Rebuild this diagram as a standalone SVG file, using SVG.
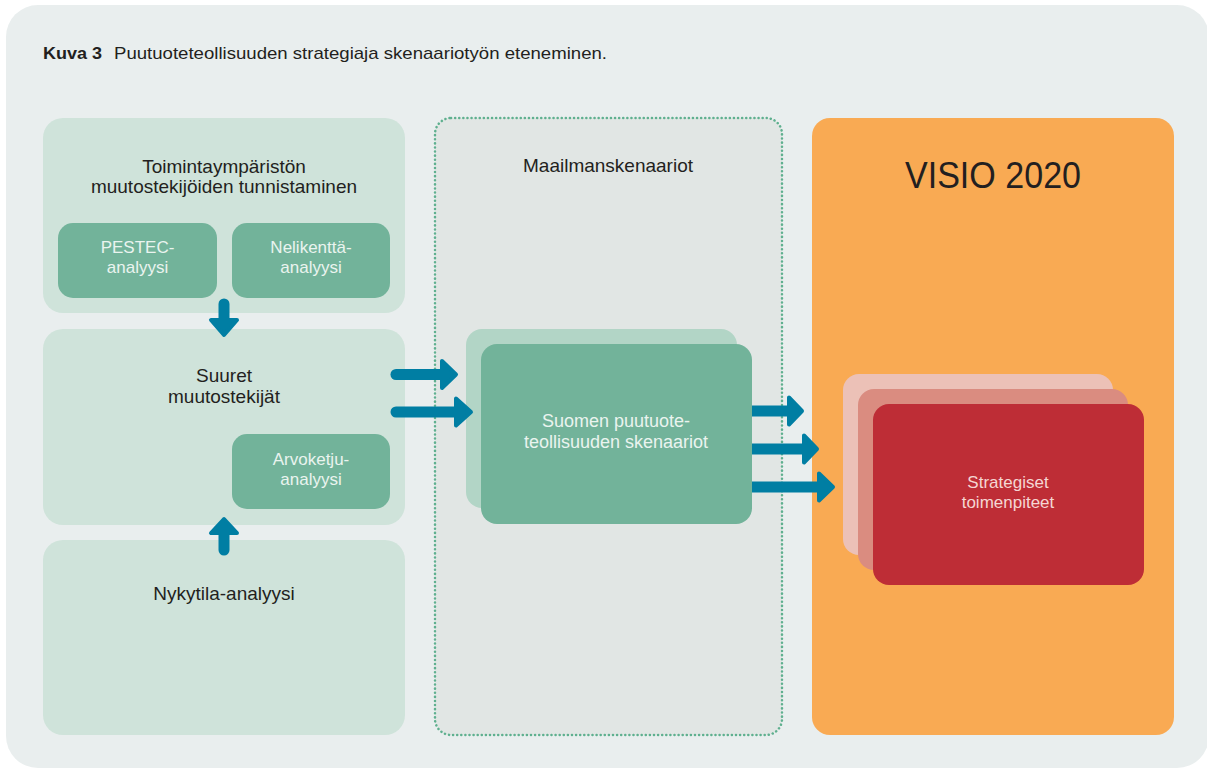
<svg xmlns="http://www.w3.org/2000/svg" width="1207" height="769" viewBox="0 0 1207 769">
<style>
.t{font-family:"Liberation Sans","DejaVu Sans",sans-serif;fill:#231f20;text-anchor:middle;font-size:19px}
.w{font-family:"Liberation Sans","DejaVu Sans",sans-serif;fill:#eaf4ef;text-anchor:middle}
.lb{fill:#cfe3da}
.ib{fill:#72b39a}
.shaft{stroke:#007ea3;stroke-width:11;stroke-linecap:round;fill:none}
.head{fill:#007ea3;stroke:#007ea3;stroke-width:4;stroke-linejoin:round}
</style>
<rect x="0" y="0" width="1207" height="769" fill="#ffffff"/>
<rect x="6" y="5" width="1203" height="763" rx="32" fill="#e9eeee"/>
<g id="title">
<text x="43" y="59" font-family="Liberation Sans, sans-serif" font-size="17" fill="#231f20"><tspan font-weight="bold" textLength="59" lengthAdjust="spacingAndGlyphs">Kuva 3</tspan><tspan x="114" textLength="493" lengthAdjust="spacingAndGlyphs">Puutuoteteollisuuden strategiaja skenaariotyön eteneminen.</tspan></text>
</g>
<g id="toimintaymparisto">
<rect class="lb" x="43" y="118" width="362" height="195" rx="20"/>
<text class="t" x="224" y="173">Toimintaympäristön</text>
<text class="t" x="224" y="193">muutostekijöiden tunnistaminen</text>
</g>
<g id="pestec">
<rect class="ib" x="58" y="223" width="159" height="75" rx="15"/>
<text class="w" x="137.5" y="253" font-size="17">PESTEC-</text>
<text class="w" x="137.5" y="273" font-size="17">analyysi</text>
</g>
<g id="nelikentta">
<rect class="ib" x="232" y="223" width="158" height="75" rx="15"/>
<text class="w" x="311" y="253" font-size="17">Nelikenttä-</text>
<text class="w" x="311" y="273" font-size="17">analyysi</text>
</g>
<g id="suuret">
<rect class="lb" x="43" y="329" width="362" height="196" rx="20"/>
<text class="t" x="224" y="382">Suuret</text>
<text class="t" x="224" y="403">muutostekijät</text>
</g>
<g id="arvoketju">
<rect class="ib" x="232" y="434" width="158" height="75" rx="15"/>
<text class="w" x="311" y="465" font-size="17">Arvoketju-</text>
<text class="w" x="311" y="485" font-size="17">analyysi</text>
</g>
<g id="nykytila">
<rect class="lb" x="43" y="540" width="362" height="195" rx="20"/>
<text class="t" x="224" y="600">Nykytila-analyysi</text>
</g>
<g id="maailmanskenaariot">
<rect x="435" y="118" width="347" height="617" rx="16" fill="#e1e6e4" stroke="#5fb08f" stroke-width="2.5" stroke-dasharray="0.1 4" stroke-linecap="round"/>
<text class="t" x="608" y="172">Maailmanskenaariot</text>
</g>
<g id="suomen-skenaariot">
<rect x="466" y="329" width="271" height="179" rx="16" fill="#b2d5c6"/>
<rect class="ib" x="481" y="344" width="271" height="180" rx="16"/>
<text class="w" x="616" y="427" font-size="18">Suomen puutuote-</text>
<text class="w" x="616" y="448" font-size="18">teollisuuden skenaariot</text>
</g>
<g id="visio">
<rect x="812" y="118" width="362" height="617" rx="18" fill="#f9aa53"/>
<text x="993" y="188" font-family="Liberation Sans, sans-serif" font-size="37" fill="#231f20" text-anchor="middle" textLength="176" lengthAdjust="spacingAndGlyphs">VISIO 2020</text>
</g>
<g id="strategiset">
<rect x="843" y="374" width="270" height="181" rx="16" fill="#ecc1b7"/>
<rect x="858" y="389" width="270" height="181" rx="16" fill="#da8c80"/>
<rect x="873" y="404" width="271" height="181" rx="16" fill="#be2d36"/>
<text x="1008" y="488" font-family="Liberation Sans, sans-serif" font-size="17" fill="#f5d6d3" text-anchor="middle">Strategiset</text>
<text x="1008" y="508" font-family="Liberation Sans, sans-serif" font-size="17" fill="#f5d6d3" text-anchor="middle">toimenpiteet</text>
</g>
<g id="connectors">
<path class="shaft" d="M224 304 V320"/>
<path class="head" d="M211 320 H237 L224 335 Z"/>
<path class="shaft" d="M224 550 V531"/>
<path class="head" d="M211 533 H237 L224 519 Z"/>
<path class="shaft" d="M396 374.5 H442"/>
<path class="head" d="M442 361 V388 L456 374.5 Z"/>
<path class="shaft" d="M396 412 H456"/>
<path class="head" d="M456 398.5 V425.5 L471 412 Z"/>
<path class="shaft" d="M752 411 H789" style="stroke-linecap:butt"/>
<path class="head" d="M789 397.5 V424.5 L802 411 Z"/>
<path class="shaft" d="M752 449 H804" style="stroke-linecap:butt"/>
<path class="head" d="M804 435.5 V462.5 L817 449 Z"/>
<path class="shaft" d="M752 487 H819" style="stroke-linecap:butt"/>
<path class="head" d="M819 473.5 V500.5 L833 487 Z"/>
</g>
</svg>
